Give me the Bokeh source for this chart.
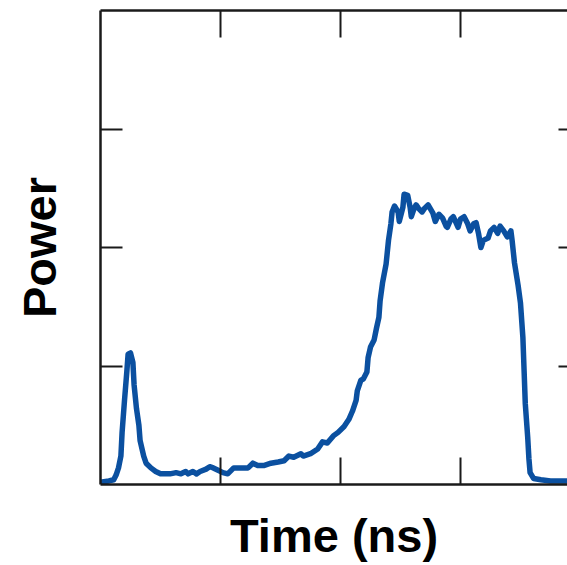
from bokeh.plotting import figure
from bokeh.models import Range1d, LinearAxis, FixedTicker, CustomLabelingPolicy
from bokeh.embed import file_html
from bokeh.resources import INLINE

# Time axis (arbitrary ns units, 0..4 across the full frame) and measured power
time_ns = [0.00, 0.07, 0.11, 0.13, 0.15, 0.17, 0.18, 0.20, 0.22, 0.23,
           0.25, 0.27, 0.28, 0.30, 0.32, 0.33, 0.36, 0.38, 0.42, 0.46,
           0.50, 0.54, 0.58, 0.63, 0.67, 0.71, 0.73, 0.77, 0.80, 0.83,
           0.88, 0.91, 0.94, 0.98, 1.02, 1.06, 1.11, 1.17, 1.23, 1.27,
           1.31, 1.36, 1.42, 1.48, 1.53, 1.57, 1.61, 1.67, 1.69, 1.75,
           1.81, 1.85, 1.89, 1.94, 1.98, 2.03, 2.07, 2.10, 2.13, 2.14,
           2.17, 2.19, 2.22, 2.23, 2.25, 2.28, 2.30, 2.32, 2.33, 2.35,
           2.38, 2.40, 2.42, 2.43, 2.45, 2.48, 2.49, 2.52, 2.53, 2.56,
           2.58, 2.59, 2.61, 2.63, 2.65, 2.68, 2.70, 2.73, 2.77, 2.79,
           2.82, 2.85, 2.88, 2.89, 2.92, 2.94, 2.98, 3.00, 3.03, 3.06,
           3.08, 3.11, 3.13, 3.15, 3.17, 3.19, 3.23, 3.25, 3.28, 3.31,
           3.33, 3.36, 3.39, 3.42, 3.43, 3.45, 3.48, 3.50, 3.52, 3.53,
           3.54, 3.56, 3.57, 3.58, 3.61, 3.67, 3.75, 3.89, 4.00]

power = [0.02, 0.03, 0.04, 0.08, 0.14, 0.24, 0.44, 0.71, 0.96, 1.10,
         1.11, 1.03, 0.84, 0.64, 0.50, 0.37, 0.24, 0.18, 0.14, 0.11,
         0.09, 0.09, 0.09, 0.10, 0.09, 0.11, 0.09, 0.11, 0.09, 0.11,
         0.13, 0.15, 0.14, 0.12, 0.10, 0.09, 0.14, 0.14, 0.14, 0.18,
         0.16, 0.16, 0.18, 0.19, 0.20, 0.24, 0.23, 0.26, 0.24, 0.26,
         0.30, 0.36, 0.35, 0.41, 0.44, 0.49, 0.55, 0.62, 0.71, 0.79,
         0.88, 0.89, 0.95, 1.07, 1.16, 1.22, 1.32, 1.41, 1.55, 1.70,
         1.86, 2.06, 2.20, 2.30, 2.35, 2.30, 2.22, 2.34, 2.45, 2.44,
         2.34, 2.26, 2.32, 2.36, 2.33, 2.30, 2.33, 2.36, 2.29, 2.22,
         2.28, 2.25, 2.18, 2.17, 2.24, 2.26, 2.17, 2.24, 2.26, 2.20,
         2.14, 2.20, 2.21, 2.12, 2.00, 2.06, 2.08, 2.14, 2.17, 2.12,
         2.18, 2.14, 2.09, 2.14, 2.06, 1.87, 1.68, 1.53, 1.24, 0.96,
         0.68, 0.40, 0.22, 0.10, 0.05, 0.04, 0.03, 0.03, 0.03]

tick_positions = [1, 2, 3]
x_title = "Time (ns)"
y_title = "Power"

FONT = "Liberation Sans"
AX_COLOR = "#1a1a1a"

p = figure(width=567, height=565, output_backend="svg", toolbar_location=None,
           x_range=Range1d(0, 3.8917), y_range=Range1d(0, 4),
           x_axis_location=None, y_axis_location=None,
           min_border_left=100, min_border_right=0,
           min_border_top=10, min_border_bottom=81)
p.outline_line_color = None
p.xgrid.visible = False
p.ygrid.visible = False
p.background_fill_color = "white"
p.border_fill_color = "white"


def make_axis(tick_in, label=None, line=True):
    ax = LinearAxis(ticker=FixedTicker(ticks=tick_positions))
    ax.major_tick_in = tick_in
    ax.major_tick_out = 0
    ax.minor_tick_in = 0
    ax.minor_tick_out = 0
    ax.minor_tick_line_color = None
    ax.major_label_policy = CustomLabelingPolicy(code="return []")
    ax.major_label_text_font_size = "0px"
    ax.major_label_standoff = 0
    ax.major_tick_line_color = AX_COLOR
    ax.major_tick_line_width = 2
    if line:
        ax.axis_line_color = AX_COLOR
        ax.axis_line_width = 2.5
    else:
        ax.axis_line_color = None
    if label:
        ax.axis_label = label
        ax.axis_label_text_font = FONT
        ax.axis_label_text_font_style = "bold"
        ax.axis_label_text_font_size = "47px"
        ax.axis_label_text_color = "black"
    return ax


bottom = make_axis(27, x_title)
bottom.axis_label_standoff = 24
left = make_axis(22, y_title)
left.axis_label_standoff = 35
top = make_axis(27)
right = make_axis(9, line=False)

p.add_layout(bottom, "below")
p.add_layout(left, "left")
p.add_layout(top, "above")
p.add_layout(right, "right")

p.line(time_ns, power, line_color="#0b50a0", line_width=5.5, line_join="round")

open("out.html", "w").write(file_html(p, INLINE))
